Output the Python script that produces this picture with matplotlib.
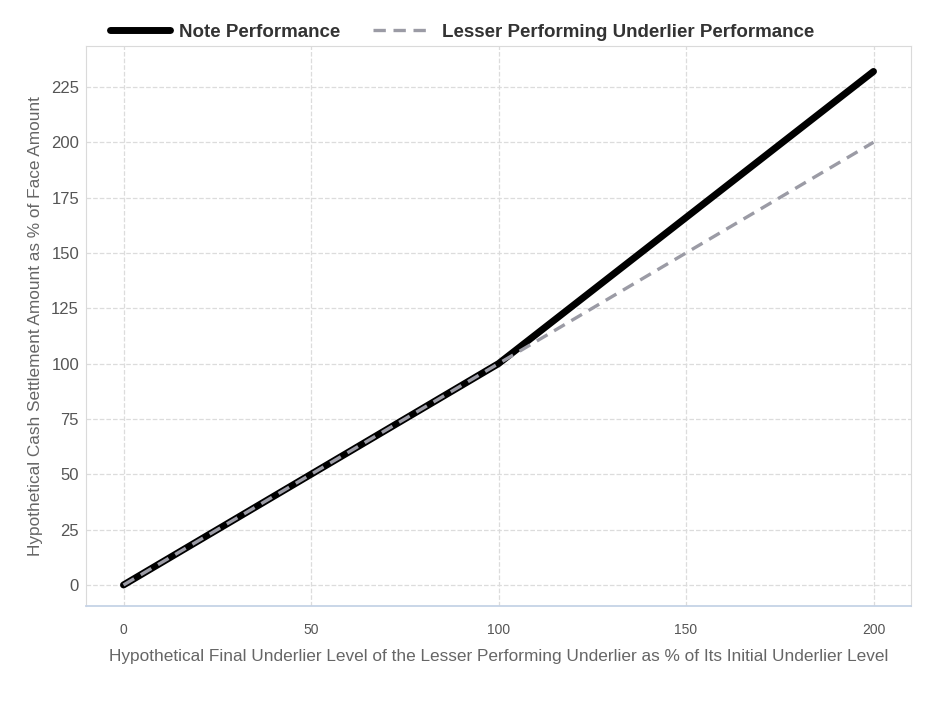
import matplotlib
matplotlib.use('Agg')
from matplotlib import pyplot as plt

# data
underlier_level = [0, 100, 200]
note_perf = [0, 100, 232]
underlier_perf = [0, 100, 200]
x_ticks = [0, 50, 100, 150, 200]
y_ticks = [0, 25, 50, 75, 100, 125, 150, 175, 200, 225]

plt.rcParams['font.family'] = ['Liberation Sans', 'DejaVu Sans']

fig = plt.figure(figsize=(9.38, 7.03), dpi=100)
ax = fig.add_axes([86 / 938, 1 - 606 / 703, (911 - 86) / 938, (606 - 46) / 703])

ax.plot(underlier_level, note_perf, color='black', lw=5, solid_capstyle='round',
        label='Note Performance', zorder=3)
ax.plot(underlier_level, underlier_perf, color='#9b9ba5', lw=2.4, ls=(0, (3.7, 2.3)),
        label='Lesser Performing Underlier Performance', zorder=4)

ax.set_xlim(-10, 210)
ax.set_ylim(-9.5, 243.5)
ax.set_xticks(x_ticks)
ax.set_yticks(y_ticks)
ax.grid(True, color='#dcdcdc', ls='--', lw=0.9)
ax.set_axisbelow(True)

for side in ['top', 'right', 'left']:
    ax.spines[side].set_color('#dadada')
ax.spines['bottom'].set_color('#c5d3e6')
ax.spines['bottom'].set_linewidth(1.3)
ax.tick_params(axis='both', length=0, labelcolor='#555555')
ax.tick_params(axis='y', labelsize=12, pad=5)
ax.tick_params(axis='x', labelsize=10, pad=12)

ax.set_xlabel('Hypothetical Final Underlier Level of the Lesser Performing Underlier as % of Its Initial Underlier Level',
              fontsize=12.4, color='#666666', labelpad=9)
ax.set_ylabel('Hypothetical Cash Settlement Amount as % of Face Amount',
              fontsize=12.4, color='#666666', labelpad=6)

leg = fig.legend(*ax.get_legend_handles_labels(), loc='center left',
                 bbox_to_anchor=(110 / 938, 1 - 32 / 703), ncol=2, frameon=False,
                 prop={'weight': 'bold', 'size': 13.5}, handlelength=3.2,
                 handletextpad=0.5, columnspacing=1.7, borderpad=0, borderaxespad=0)
for t in leg.get_texts():
    t.set_color('#333333')

plt.savefig('out.png', dpi=100)
